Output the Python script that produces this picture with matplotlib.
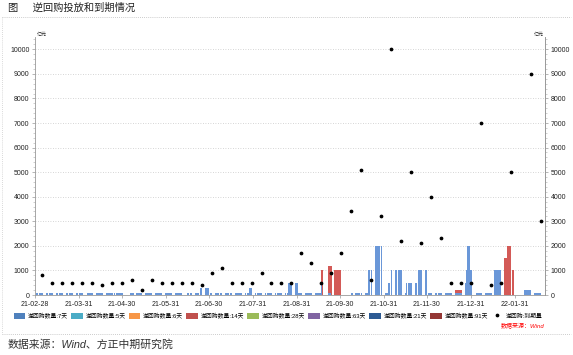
import matplotlib.pyplot as plt
import matplotlib.dates as mdates
from matplotlib.patches import Patch
from matplotlib.lines import Line2D
from matplotlib.ticker import MultipleLocator
import numpy as np
import pandas as pd

plt.rcParams['font.family'] = ['Liberation Sans', 'Noto Sans CJK SC', 'DejaVu Sans']

# 7天逆回购，每周一至周五（亿元），0 = 未操作/假期
week_starts = pd.date_range('2021-03-01', '2022-02-14', freq='W-MON')
rr7_weeks = [
    [100, 100, 100, 100, 100],    # 03-01
    [100, 100, 100, 100, 100],    # 03-08
    [100, 100, 100, 100, 100],    # 03-15
    [100, 100, 100, 100, 100],    # 03-22
    [100, 100, 100, 100, 100],    # 03-29
    [0, 100, 100, 100, 100],      # 04-05
    [100, 100, 100, 100, 100],    # 04-12
    [100, 100, 100, 100, 100],    # 04-19
    [100, 100, 100, 100, 100],    # 04-26
    [0, 0, 0, 100, 100],          # 05-03
    [100, 100, 100, 100, 100],    # 05-10
    [100, 100, 100, 100, 100],    # 05-17
    [100, 100, 100, 100, 100],    # 05-24
    [100, 100, 100, 100, 100],    # 05-31
    [100, 100, 100, 100, 100],    # 06-07
    [0, 100, 100, 100, 100],      # 06-14
    [100, 100, 100, 300, 300],    # 06-21
    [300, 300, 300, 100, 100],    # 06-28
    [100, 100, 100, 100, 100],    # 07-05
    [100, 100, 100, 100, 100],    # 07-12
    [100, 100, 100, 100, 100],    # 07-19
    [100, 100, 100, 300, 300],    # 07-26
    [100, 100, 100, 100, 100],    # 08-02
    [100, 100, 100, 100, 100],    # 08-09
    [100, 100, 100, 100, 100],    # 08-16
    [100, 100, 500, 500, 500],    # 08-23
    [500, 500, 100, 100, 100],    # 08-30
    [100, 100, 100, 100, 100],    # 09-06
    [100, 100, 100, 100, 500],    # 09-13
    [0, 0, 100, 100, 0],          # 09-20
    [0, 0, 0, 0, 0],              # 09-27
    [0, 0, 0, 0, 100],            # 10-04
    [100, 100, 100, 100, 100],    # 10-11
    [100, 100, 1000, 1000, 1000],  # 10-18
    [2000, 2000, 2000, 2000, 2000],  # 10-25
    [100, 100, 500, 500, 1000],   # 11-01
    [1000, 1000, 1000, 1000, 1000],  # 11-08
    [100, 500, 500, 500, 500],    # 11-15
    [500, 500, 1000, 1000, 1000],  # 11-22
    [1000, 1000, 100, 100, 100],  # 11-29
    [100, 100, 100, 100, 100],    # 12-06
    [100, 100, 100, 100, 100],    # 12-13
    [100, 100, 100, 100, 100],    # 12-20
    [500, 1000, 2000, 2000, 1000],  # 12-27
    [0, 100, 100, 100, 100],      # 01-03
    [100, 100, 100, 100, 100],    # 01-10
    [1000, 1000, 1000, 1000, 1000],  # 01-17
    [0, 0, 0, 0, 0],              # 01-24
    [0, 0, 0, 0, 0],              # 01-31
    [200, 200, 200, 200, 200],    # 02-07
    [100, 100, 100, 100, 100],    # 02-14
]

# 14天逆回购（只列有操作的周）
rr14_weeks = {
    '2021-09-13': [0, 0, 0, 0, 500],
    '2021-09-20': [0, 0, 1100, 1100, 1200],
    '2021-09-27': [1000, 1000, 1000, 1000, 0],
    '2021-12-20': [100, 100, 100, 100, 100],
    '2022-01-24': [1500, 1500, 2000, 2000, 2000],
}

# 周末调休工作日的操作
extra_dates = ['2021-04-25', '2021-05-08', '2021-09-18', '2021-09-26',
               '2021-10-09', '2022-01-29', '2022-01-30']
extra_rr7 = [100, 100, 0, 0, 100, 0, 0]
extra_rr14 = [0, 0, 1000, 1000, 0, 1000, 1000]

# 逆回购到期量（每周五）
maturity_dates = pd.date_range('2021-03-05', '2022-02-18', freq='W-FRI')
maturity = [800, 500, 500, 500, 500, 500, 400, 500, 500, 600,
            200, 600, 500, 500, 500, 500, 400, 900, 1100, 500,
            500, 500, 900, 500, 500, 500, 1700, 1300, 500, 900,
            1700, 3400, 5100, 600, 3200, 10000, 2200, 5000, 2100, 4000,
            2300, 500, 500, 500, 7000, 400, 500, 5000, np.nan, 9000,
            3000]

month_ticks = ['2021-02-28', '2021-03-31', '2021-04-30', '2021-05-31',
               '2021-06-30', '2021-07-31', '2021-08-31', '2021-09-30',
               '2021-10-31', '2021-11-30', '2021-12-31', '2022-01-31']

legend_labels = ['逆回购数量:7天', '逆回购数量:5天', '逆回购数量:6天',
                 '逆回购数量:14天', '逆回购数量:28天', '逆回购数量:63天',
                 '逆回购数量:21天', '逆回购数量:91天']
legend_colors = ['#4F81BD', '#4BACC6', '#F79646', '#C0504D',
                 '#9BBB59', '#8064A2', '#2C5A93', '#943634']

# 展开成日度序列
days, v7, v14 = [], [], []
for ws, row in zip(week_starts, rr7_weeks):
    row14 = rr14_weeks.get(ws.strftime('%Y-%m-%d'), [0] * 5)
    for k in range(5):
        days.append(ws + pd.Timedelta(days=k))
        v7.append(row[k])
        v14.append(row14[k])
for d, a, b in zip(extra_dates, extra_rr7, extra_rr14):
    days.append(pd.Timestamp(d))
    v7.append(a)
    v14.append(b)
df = pd.DataFrame({'date': days, 'rr7': v7, 'rr14': v14}).sort_values('date')

fig = plt.figure(figsize=(5.73, 3.55), dpi=100)
ax = fig.add_axes([35 / 573, 60 / 355, 510 / 573, 258 / 355])

ax.bar(df['date'], df['rr7'], width=0.9, color='#6A97D8', linewidth=0, zorder=2)
ax.bar(df['date'], df['rr14'], bottom=df['rr7'], width=0.9, color='#D35A57',
       linewidth=0, zorder=2)
ax.plot(maturity_dates, maturity, 'o', color='black', markersize=1.7,
        linestyle='none', zorder=4)

ax.set_xlim(pd.Timestamp('2021-02-28'), pd.Timestamp('2022-02-21'))
ax.set_ylim(0, 10500)
ax.set_yticks(range(0, 10001, 1000))
ax.yaxis.set_minor_locator(MultipleLocator(200))
ax.set_xticks(pd.to_datetime(month_ticks))
ax.xaxis.set_major_formatter(mdates.DateFormatter('%y-%m-%d'))
ax.grid(axis='y', linestyle=(0, (1, 2)), color='#c8c8c8', linewidth=0.6, zorder=0)

for s in ['left', 'right', 'bottom']:
    ax.spines[s].set_color('#999999')
    ax.spines[s].set_linewidth(0.6)
ax.spines['top'].set_visible(False)
ax.tick_params(axis='both', labelsize=5, length=2.5, width=0.5, color='#999999',
               labelcolor='#222222', pad=1.5)
ax.tick_params(axis='y', which='minor', length=1.5, width=0.4, color='#aaaaaa')

ax2 = ax.twinx()
ax2.set_ylim(ax.get_ylim())
ax2.set_yticks(range(0, 10001, 1000))
ax2.yaxis.set_minor_locator(MultipleLocator(200))
for s in ['left', 'top', 'bottom']:
    ax2.spines[s].set_visible(False)
ax2.spines['right'].set_color('#999999')
ax2.spines['right'].set_linewidth(0.6)
ax2.tick_params(axis='y', labelsize=5, length=2.5, width=0.5, color='#999999',
                labelcolor='#222222', pad=1.5)
ax2.tick_params(axis='y', which='minor', length=1.5, width=0.4, color='#aaaaaa')

ax.text(0.003, 1.0, '亿元', transform=ax.transAxes, fontsize=3.6,
        ha='left', va='bottom', color='#222222')
ax.text(0.997, 1.0, '亿元', transform=ax.transAxes, fontsize=3.6,
        ha='right', va='bottom', color='#222222')

handles = [Patch(facecolor=c, edgecolor='none') for c in legend_colors]
handles.append(Line2D([], [], marker='o', color='black', markersize=1.7,
                      linestyle='none'))
labels = legend_labels + ['逆回购:到期量']
fig.legend(handles, labels, loc='center', bbox_to_anchor=(0.485, 1 - 316 / 355),
           ncol=9, fontsize=4.2, frameon=False, handlelength=2.0,
           handleheight=1.4, columnspacing=0.55, handletextpad=0.45)

fig.text(545 / 573, 1 - 326 / 355, '数据来源：Wind', color='red', fontsize=4.3,
         ha='right', va='center', style='italic')

# 标题、分隔线与来源
fig.text(8 / 573, 1 - 8 / 355, '图     逆回购投放和到期情况', fontsize=7.4,
         ha='left', va='center', color='#222222')
for yy in [17, 334]:
    fig.add_artist(Line2D([0.003, 0.997], [1 - yy / 355] * 2, color='#bbbbbb',
                          linewidth=0.6, linestyle=(0, (1, 1.5))))
fig.add_artist(Line2D([0.003, 0.003], [1 - 17 / 355, 1 - 334 / 355],
                      color='#cccccc', linewidth=0.6, linestyle=(0, (1, 1.5))))
fig.text(8 / 573, 1 - 344 / 355, '数据来源：Wind、方正中期研究院', fontsize=7.8,
         ha='left', va='center', color='#333333', style='italic')

fig.savefig('out.png', dpi=100)
